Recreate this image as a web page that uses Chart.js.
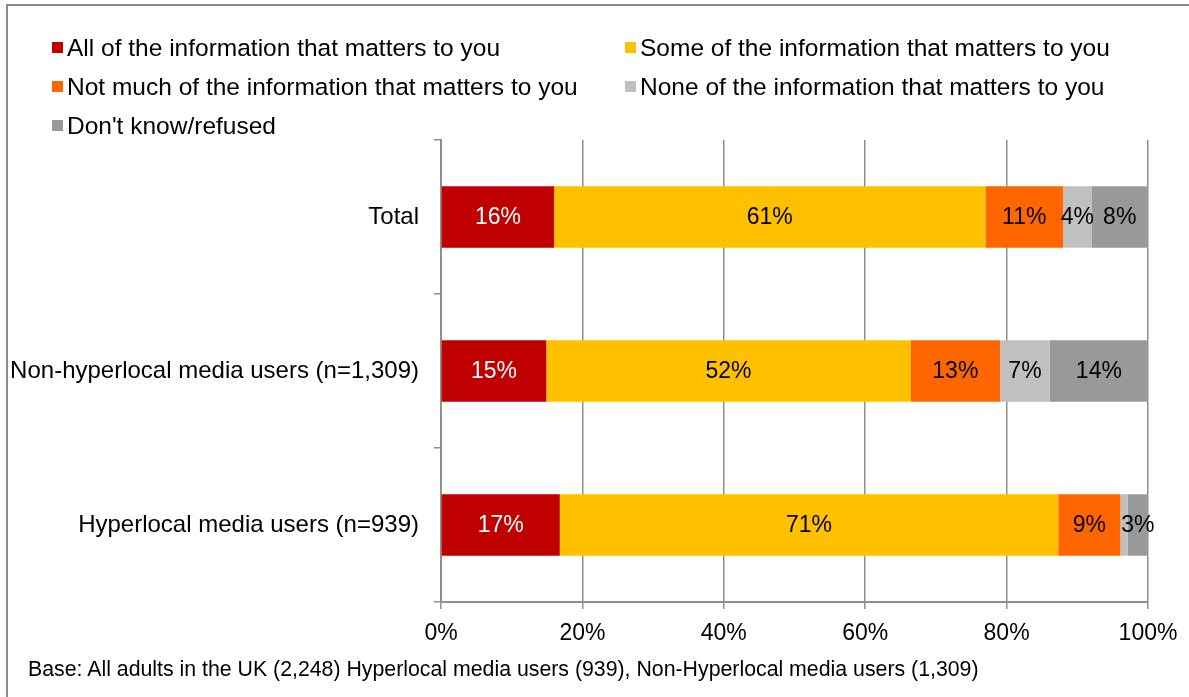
<!DOCTYPE html>
<html>
<head>
<meta charset="utf-8">
<script src="https://cdn.jsdelivr.net/npm/chart.js@4/dist/chart.umd.min.js"></script>
<style>
  html, body { margin:0; padding:0; background:#fff; }
  body { font-family:"Liberation Sans", Arial, sans-serif; color:#000; }
  #wrap { position:relative; width:1189px; height:697px; overflow:hidden; }
  #frame { position:absolute; left:6px; top:4px; right:-4px; bottom:-4px; border-top:2px solid #8c8c8c; border-left:2px solid #8c8c8c; }
  #chart { position:absolute; left:0; top:0; }
  #legend { position:absolute; left:52px; top:33px; display:grid; grid-template-columns:573px 520px; row-gap:10px; font-size:24.5px; line-height:29px; }
  #legend .item { display:flex; align-items:center; white-space:nowrap; }
  #legend .sw { width:11px; height:11px; margin-right:4px; flex:none; }
  #note { position:absolute; left:28px; top:657px; font-size:21.3px; line-height:24px; white-space:nowrap; }
</style>
</head>
<body>
<div id="wrap">
  <div id="frame"></div>
  <canvas id="chart" width="1189" height="697"></canvas>
  <div id="legend"></div>
  <div id="note">Base: All adults in the UK (2,248) Hyperlocal media users (939), Non-Hyperlocal media users (1,309)</div>
</div>
<script>
const groups = ["Total", "Non-hyperlocal media users (n=1,309)", "Hyperlocal media users (n=939)"];

const seriesNames = [
  "All of the information that matters to you",
  "Some of the information that matters to you",
  "Not much of the information that matters to you",
  "None of the information that matters to you",
  "Don't know/refused"
];
const seriesColors = ["#c00000", "#ffc000", "#ff6600", "#c0c0c0", "#999999"];
const labelColors = ["#ffffff", "#000000", "#000000", "#000000", "#000000"];

const allInfo     = [16, 14.9, 16.8];
const someInfo    = [61, 51.5, 70.5];
const notMuchInfo = [11, 12.7, 8.8];
const noneInfo    = [4, 7.0, 1.0];
const dontKnow    = [8, 13.9, 2.9];

const xTicks = [0, 20, 40, 60, 80, 100];

const seriesValues = [allInfo, someInfo, notMuchInfo, noneInfo, dontKnow];
const FONT = '"Liberation Sans", Arial, sans-serif';
const gridGrey = "#8f8f8f";

// legend in two columns, filled row by row
const legendEl = document.getElementById("legend");
seriesNames.forEach((name, i) => {
  const item = document.createElement("div");
  item.className = "item";
  const sw = document.createElement("span");
  sw.className = "sw";
  sw.style.background = seriesColors[i];
  item.appendChild(sw);
  item.appendChild(document.createTextNode(name));
  legendEl.appendChild(item);
});

// percentage written in the middle of each segment (tiny ones skipped)
const valueLabels = {
  id: "valueLabels",
  afterDatasetsDraw(chart){
    const ctx = chart.ctx;
    ctx.save();
    ctx.font = "23px " + FONT;
    ctx.textAlign = "center";
    ctx.textBaseline = "middle";
    chart.data.datasets.forEach((ds, i) => {
      chart.getDatasetMeta(i).data.forEach((bar, j) => {
        const pct = Math.round(ds.data[j]);
        if(pct < 2) return;
        const p = bar.getCenterPoint();
        ctx.fillStyle = labelColors[i];
        ctx.fillText(pct + "%", p.x, p.y + 1);
      });
    });
    ctx.restore();
  }
};

new Chart(document.getElementById("chart"), {
  type: "bar",
  data: {
    labels: groups,
    datasets: seriesNames.map((name, i) => ({
      label: name,
      data: seriesValues[i],
      backgroundColor: seriesColors[i],
      borderWidth: 0,
      barPercentage: 0.4,
      categoryPercentage: 1
    }))
  },
  options: {
    indexAxis: "y",
    responsive: false,
    animation: false,
    layout: { padding: { left: 0, right: 41, top: 140, bottom: 45 } },
    plugins: { legend: { display: false }, tooltip: { enabled: false } },
    scales: {
      x: {
        stacked: true,
        min: 0,
        max: 100,
        afterBuildTicks: s => { s.ticks = xTicks.map(v => ({ value: v })); },
        afterFit: s => { s.height = 50; },
        grid: { color: gridGrey, lineWidth: 1.5, tickLength: 7 },
        border: { color: gridGrey, width: 2 },
        ticks: { color: "#000", font: { family: FONT, size: 23 }, padding: 11, callback: v => v + "%" }
      },
      y: {
        stacked: true,
        afterFit: s => { s.width = 441; },
        grid: { offset: true, drawOnChartArea: false, color: gridGrey, lineWidth: 1.5, tickLength: 7 },
        border: { color: gridGrey, width: 2 },
        ticks: { color: "#000", font: { family: FONT, size: 24 }, padding: 15 }
      }
    }
  },
  plugins: [valueLabels]
});
</script>
</body>
</html>
